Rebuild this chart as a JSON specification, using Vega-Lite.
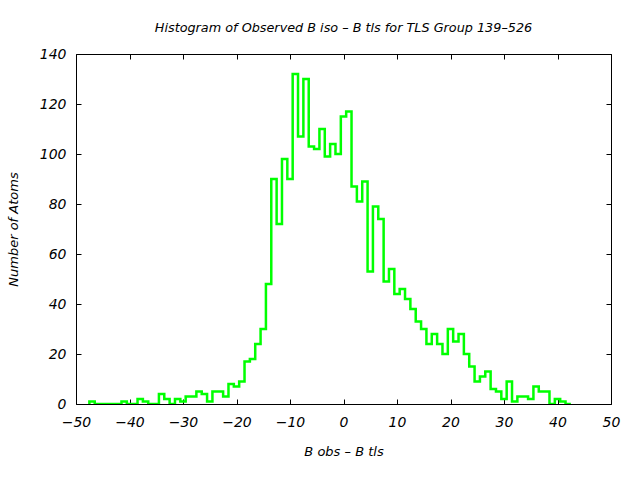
{
  "$schema": "https://vega.github.io/schema/vega-lite/v6.json",
  "autosize": "none",
  "width": 535,
  "height": 350,
  "padding": {"left": 76, "top": 54, "right": 29, "bottom": 76},
  "background": "white",
  "title": {
    "text": "Histogram of Observed B iso  – B tls  for TLS Group 139–526",
    "font": "DejaVu Sans",
    "fontStyle": "italic",
    "fontWeight": "normal",
    "fontSize": 12.8,
    "color": "black",
    "offset": 12,
    "anchor": "middle"
  },
  "config": {
    "view": {"stroke": "black", "strokeWidth": 1},
    "axis": {
      "labelFont": "DejaVu Sans",
      "labelFontStyle": "italic",
      "labelFontSize": 14,
      "labelColor": "black",
      "labelFlush": false,
      "labelOverlap": false,
      "titleFont": "DejaVu Sans",
      "titleFontStyle": "italic",
      "titleFontWeight": "normal",
      "titleFontSize": 13,
      "titleColor": "black",
      "grid": false,
      "domain": false,
      "tickColor": "black",
      "tickSize": -5,
      "tickWidth": 1
    }
  },
  "data": {
    "values": [
      {"b": -47.5, "n": 0},
      {"b": -47.5, "n": 1},
      {"b": -46.5, "n": 0},
      {"b": -45.5, "n": 0},
      {"b": -44.5, "n": 0},
      {"b": -43.5, "n": 0},
      {"b": -42.5, "n": 0},
      {"b": -41.5, "n": 1},
      {"b": -40.5, "n": 0},
      {"b": -39.5, "n": 0},
      {"b": -38.5, "n": 2},
      {"b": -37.5, "n": 1},
      {"b": -36.5, "n": 0},
      {"b": -35.5, "n": 0},
      {"b": -34.5, "n": 4},
      {"b": -33.5, "n": 2},
      {"b": -32.5, "n": 0},
      {"b": -31.5, "n": 2},
      {"b": -30.5, "n": 1},
      {"b": -29.5, "n": 3},
      {"b": -28.5, "n": 3},
      {"b": -27.5, "n": 5},
      {"b": -26.5, "n": 4},
      {"b": -25.5, "n": 1},
      {"b": -24.5, "n": 5},
      {"b": -23.5, "n": 5},
      {"b": -22.5, "n": 3},
      {"b": -21.5, "n": 8},
      {"b": -20.5, "n": 7},
      {"b": -19.5, "n": 9},
      {"b": -18.5, "n": 17},
      {"b": -17.5, "n": 18},
      {"b": -16.5, "n": 24},
      {"b": -15.5, "n": 30},
      {"b": -14.5, "n": 48},
      {"b": -13.5, "n": 90},
      {"b": -12.5, "n": 72},
      {"b": -11.5, "n": 98},
      {"b": -10.5, "n": 90},
      {"b": -9.5, "n": 132},
      {"b": -8.5, "n": 107},
      {"b": -7.5, "n": 130},
      {"b": -6.5, "n": 103},
      {"b": -5.5, "n": 102},
      {"b": -4.5, "n": 110},
      {"b": -3.5, "n": 99},
      {"b": -2.5, "n": 104},
      {"b": -1.5, "n": 100},
      {"b": -0.5, "n": 115},
      {"b": 0.5, "n": 117},
      {"b": 1.5, "n": 87},
      {"b": 2.5, "n": 81},
      {"b": 3.5, "n": 89},
      {"b": 4.5, "n": 53},
      {"b": 5.5, "n": 79},
      {"b": 6.5, "n": 74},
      {"b": 7.5, "n": 49},
      {"b": 8.5, "n": 54},
      {"b": 9.5, "n": 44},
      {"b": 10.5, "n": 46},
      {"b": 11.5, "n": 42},
      {"b": 12.5, "n": 38},
      {"b": 13.5, "n": 33},
      {"b": 14.5, "n": 30},
      {"b": 15.5, "n": 24},
      {"b": 16.5, "n": 28},
      {"b": 17.5, "n": 24},
      {"b": 18.5, "n": 20},
      {"b": 19.5, "n": 30},
      {"b": 20.5, "n": 25},
      {"b": 21.5, "n": 28},
      {"b": 22.5, "n": 20},
      {"b": 23.5, "n": 15},
      {"b": 24.5, "n": 9},
      {"b": 25.5, "n": 11},
      {"b": 26.5, "n": 13},
      {"b": 27.5, "n": 6},
      {"b": 28.5, "n": 5},
      {"b": 29.5, "n": 2},
      {"b": 30.5, "n": 9},
      {"b": 31.5, "n": 1},
      {"b": 32.5, "n": 3},
      {"b": 33.5, "n": 3},
      {"b": 34.5, "n": 2},
      {"b": 35.5, "n": 7},
      {"b": 36.5, "n": 5},
      {"b": 37.5, "n": 5},
      {"b": 38.5, "n": 0},
      {"b": 39.5, "n": 2},
      {"b": 40.5, "n": 1},
      {"b": 41.5, "n": 0},
      {"b": 42.5, "n": 0}
    ]
  },
  "layer": [
    {
      "mark": {"type": "line", "interpolate": "step-after", "color": "#00ff00", "strokeWidth": 2.5, "clip": true},
      "encoding": {
        "x": {
          "field": "b",
          "type": "quantitative",
          "scale": {"domain": [-50, 50], "nice": false, "zero": false},
          "axis": {"orient": "bottom", "values": [-50, -40, -30, -20, -10, 0, 10, 20, 30, 40, 50], "labelPadding": 16, "title": "B obs  – B tls", "titlePadding": 16}
        },
        "y": {
          "field": "n",
          "type": "quantitative",
          "scale": {"domain": [0, 140], "nice": false},
          "axis": {"orient": "left", "values": [0, 20, 40, 60, 80, 100, 120, 140], "labelPadding": 15, "title": "Number of Atoms", "titlePadding": 19}
        }
      }
    },
    {
      "mark": {"type": "line", "opacity": 0},
      "encoding": {
        "x": {
          "field": "b",
          "type": "quantitative",
          "scale": {"domain": [-50, 50], "nice": false, "zero": false},
          "axis": {"orient": "top", "values": [-50, -40, -30, -20, -10, 0, 10, 20, 30, 40, 50], "labels": false, "title": null}
        },
        "y": {
          "field": "n",
          "type": "quantitative",
          "scale": {"domain": [0, 140], "nice": false},
          "axis": {"orient": "right", "values": [0, 20, 40, 60, 80, 100, 120, 140], "labels": false, "title": null}
        }
      }
    }
  ],
  "resolve": {"axis": {"x": "independent", "y": "independent"}}
}
